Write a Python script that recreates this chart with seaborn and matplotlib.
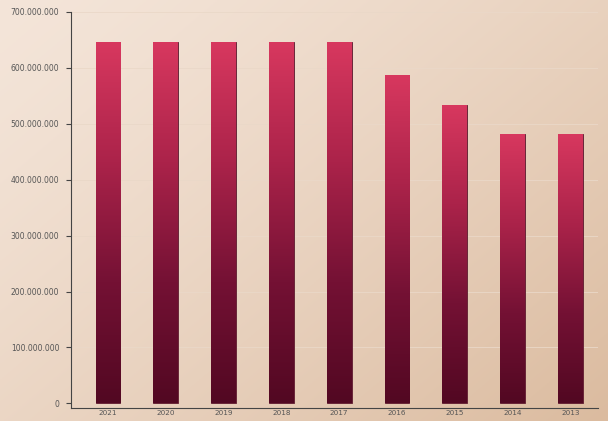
import numpy as np
import pandas as pd
import matplotlib
matplotlib.use("Agg")
import matplotlib.pyplot as plt
import seaborn as sns
from matplotlib.colors import LinearSegmentedColormap
from matplotlib.ticker import FuncFormatter

years = ["2021", "2020", "2019", "2018", "2017", "2016", "2015", "2014", "2013"]
values = [646e6, 646e6, 647e6, 647e6, 647e6, 587e6, 534e6, 482e6, 482e6]
yticks = [0, 100e6, 200e6, 300e6, 400e6, 500e6, 600e6, 700e6]

df = pd.DataFrame({"year": years, "value": values})

sns.set_theme(style="white")
plt.rcParams['font.family'] = ['DejaVu Sans']

fig = plt.figure(figsize=(6.08, 4.21), dpi=100)

# background gradient
bg = fig.add_axes([0, 0, 1, 1], zorder=-10)
xx, yy = np.meshgrid(np.linspace(0, 1, 300), np.linspace(0, 1, 200))
t = np.clip(0.55 * xx + 0.45 * yy, 0, 1) ** 1.3
c0 = np.array([0xf4, 0xe5, 0xd9]) / 255
c1 = np.array([0xdb, 0xbb, 0x9f]) / 255
img = c0[None, None, :] * (1 - t[..., None]) + c1[None, None, :] * t[..., None]
bg.imshow(img, aspect='auto', extent=[0, 1, 0, 1], origin='upper')
bg.set_axis_off()

ax = fig.add_axes([0.1168, 0.0300, 0.9836 - 0.1168, 0.9715 - 0.0300])
ax.patch.set_alpha(0)

sns.barplot(data=df, x="year", y="value", ax=ax, width=0.43,
            color="#a0203f", edgecolor="#5a1a2e", linewidth=0.6, saturation=1)

cmap = LinearSegmentedColormap.from_list("barg", ["#520822", "#741134", "#ab234a", "#d8385f"])
grad = np.linspace(0, 1, 256).reshape(-1, 1)
for p in ax.patches:
    x0, y0 = p.get_x(), p.get_y()
    w, h = p.get_width(), p.get_height()
    im = ax.imshow(grad, cmap=cmap, aspect='auto', origin='lower',
                   extent=[x0, x0 + w, y0, y0 + h], zorder=p.get_zorder() + 0.1)
    im.set_clip_path(p)
ax.set_xlim(-0.64, 8.48)
ax.set_ylim(-8.9e6, 700e6)

for yv in yticks[1:]:
    ax.axhline(yv, color="#ead8c8", lw=0.6, zorder=0.5)

ax.set_yticks(yticks)
ax.yaxis.set_major_formatter(FuncFormatter(lambda v, pos: f"{int(v):,}".replace(",", ".")))
ax.tick_params(axis='y', left=True, length=3.5, width=0.8, color="#444444",
               labelsize=5.5, labelcolor="#555555", pad=5)
ax.tick_params(axis='x', bottom=False, length=0, labelsize=5.2, labelcolor="#555555", pad=1.5)
ax.set_xlabel("")
ax.set_ylabel("")
for s in ["top", "right"]:
    ax.spines[s].set_visible(False)
ax.spines["left"].set_color("#444444")
ax.spines["left"].set_linewidth(0.8)
ax.spines["bottom"].set_color("#444444")
ax.spines["bottom"].set_linewidth(0.8)

fig.savefig("out.png", dpi=100)
